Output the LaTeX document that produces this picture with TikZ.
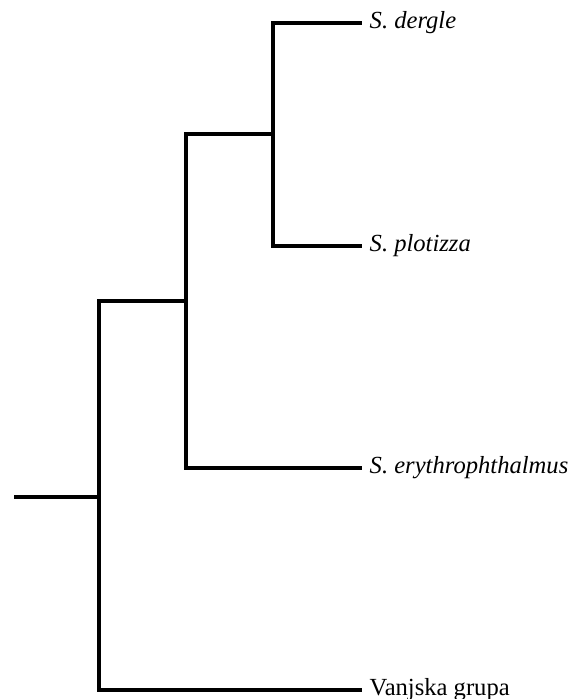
\documentclass[tikz,border=0pt]{standalone}
\usepackage{fontspec}
\setmainfont{Liberation Serif}
\usepackage{tikz}
\usetikzlibrary{positioning}

\begin{document}
\begin{tikzpicture}[x=1pt, y=-1pt, every node/.style={font=\fontsize{24.6}{28}\selectfont}]
    % Define styles
    \tikzstyle{branch} = [line width=3.2pt, black, line join=miter]
    \tikzstyle{taxon} = [anchor=west, inner xsep=7.5pt, inner ysep=0pt]
    \tikzstyle{split} = [inner sep=0pt, minimum size=0pt]

    \useasboundingbox (0,0) rectangle (575,699);

    % Internal nodes
    \coordinate (root) at (14,497);
    \node[split] (outer) at (99,497) {};
    \node[split] (scard) at (186,301) {};
    \node[split] (sister) at (273,134) {};

    % Taxa
    \node[taxon] (dergle) at (362,23) {\textit{S. dergle}};
    \node[taxon] (plotizza) at (362,246) {\textit{S. plotizza}};
    \node[taxon] (erythro) at (362,468) {\textit{S. erythrophthalmus}};
    \node[taxon] (outgroup) at (362,690) {Vanjska grupa};

    % Branches
    \draw[branch] (root) -- (outer);
    \draw[branch] (outer) |- (scard);
    \draw[branch] (outer) |- (outgroup.west);
    \draw[branch] (scard) |- (sister);
    \draw[branch] (scard) |- (erythro.west);
    \draw[branch] (sister) |- (dergle.west);
    \draw[branch] (sister) |- (plotizza.west);
\end{tikzpicture}
\end{document}
